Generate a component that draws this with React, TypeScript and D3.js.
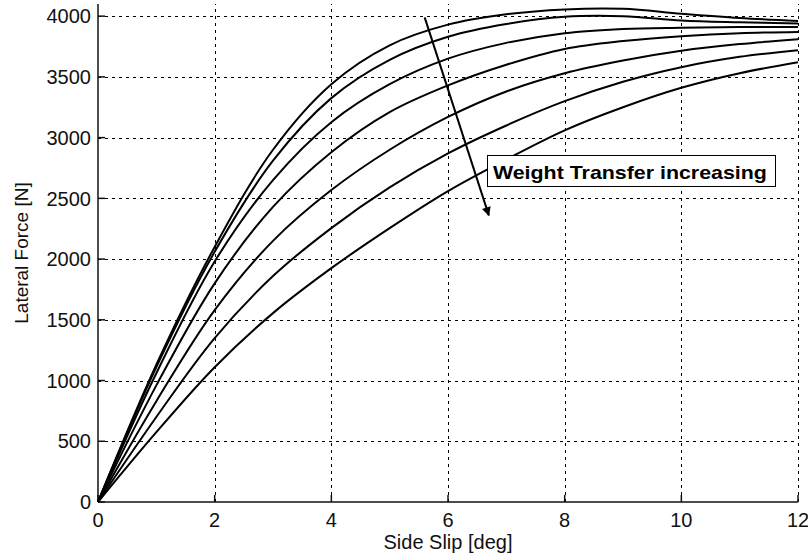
import React, { useRef, useEffect } from "react";
import * as d3 from "d3";

// side slip samples [deg]
const slip = [0, 1, 2, 3, 4, 5, 6, 7, 8, 9, 10, 11, 12];

// lateral force [N], one curve per weight transfer step (low -> high)
const force1 = [0, 1130, 2100, 2900, 3440, 3760, 3930, 4015, 4055, 4060, 4020, 3985, 3960];
const force2 = [0, 1110, 2060, 2810, 3325, 3640, 3830, 3935, 3995, 4000, 3965, 3950, 3940];
const force3 = [0, 1060, 1980, 2650, 3127, 3440, 3650, 3780, 3860, 3895, 3905, 3910, 3910];
const force4 = [0, 960, 1800, 2430, 2880, 3210, 3430, 3600, 3730, 3795, 3835, 3860, 3870];
const force5 = [0, 830, 1580, 2150, 2568, 2900, 3170, 3380, 3530, 3635, 3715, 3770, 3810];
const force6 = [0, 700, 1350, 1860, 2255, 2590, 2870, 3100, 3300, 3460, 3580, 3665, 3720];
const force7 = [0, 575, 1110, 1555, 1925, 2255, 2560, 2820, 3060, 3250, 3410, 3530, 3620];
const allForces = [force1, force2, force3, force4, force5, force6, force7];

const xTicks = [0, 2, 4, 6, 8, 10, 12];
const yTicks = [0, 500, 1000, 1500, 2000, 2500, 3000, 3500, 4000];

// annotation (data units)
const arrowFrom = [5.6, 3990];
const arrowTo = [6.7, 2360];
const noteText = "Weight Transfer increasing";
const notePos = [6.77, 2657];

function App() {
  const svgRef = useRef(null);

  const width = 808;
  const height = 560;
  const font = "Arial, 'Liberation Sans', sans-serif";

  useEffect(() => {
    const svg = d3.select(svgRef.current);
    svg.selectAll("*").remove();

    const x = d3.scaleLinear().domain([0, 12]).range([98, 798]);
    const y = d3.scaleLinear().domain([0, 4100]).range([502, 4]);

    // grid
    const grid = svg.append("g").attr("stroke", "#000").attr("stroke-width", 1).attr("stroke-dasharray", "3,4");
    grid
      .selectAll("line.gx")
      .data(xTicks.filter((d) => d > 0))
      .join("line")
      .attr("x1", (d) => Math.round(x(d)) + 0.5)
      .attr("x2", (d) => Math.round(x(d)) + 0.5)
      .attr("y1", y(0))
      .attr("y2", y(4100));
    grid
      .selectAll("line.gy")
      .data(yTicks.filter((d) => d > 0))
      .join("line")
      .attr("class", "gy")
      .attr("y1", (d) => Math.round(y(d)) + 0.5)
      .attr("y2", (d) => Math.round(y(d)) + 0.5)
      .attr("x1", x(0))
      .attr("x2", x(12));

    // axes (left + bottom only, ticks inward)
    const ax = svg.append("g").attr("stroke", "#111").attr("stroke-width", 1.5);
    ax.append("line").attr("x1", x(0)).attr("x2", x(0)).attr("y1", y(4100)).attr("y2", y(0));
    ax.append("line").attr("x1", x(0)).attr("x2", x(12)).attr("y1", y(0)).attr("y2", y(0));
    ax.selectAll("line.tx")
      .data(xTicks)
      .join("line")
      .attr("x1", (d) => x(d))
      .attr("x2", (d) => x(d))
      .attr("y1", y(0))
      .attr("y2", y(0) - 7);
    ax.selectAll("line.ty")
      .data(yTicks)
      .join("line")
      .attr("class", "ty")
      .attr("y1", (d) => y(d))
      .attr("y2", (d) => y(d))
      .attr("x1", x(0))
      .attr("x2", x(0) + 7);

    const labels = svg.append("g").style("font-family", font).style("font-size", "20px").attr("fill", "#111");
    labels
      .selectAll("text.xt")
      .data(xTicks)
      .join("text")
      .attr("x", (d) => x(d))
      .attr("y", 527)
      .attr("text-anchor", "middle")
      .text((d) => d);
    labels
      .selectAll("text.yt")
      .data(yTicks)
      .join("text")
      .attr("class", "yt")
      .attr("x", x(0) - 7)
      .attr("y", (d) => y(d))
      .attr("dy", "0.36em")
      .attr("text-anchor", "end")
      .text((d) => d);

    labels
      .append("text")
      .attr("x", (x(0) + x(12)) / 2)
      .attr("y", 549)
      .attr("text-anchor", "middle")
      .text("Side Slip [deg]");
    labels
      .append("text")
      .attr("transform", `translate(28,${(y(0) + y(4100)) / 2}) rotate(-90)`)
      .attr("text-anchor", "middle")
      .style("font-size", "19px")
      .text("Lateral Force [N]");

    // curves
    const line = d3
      .line()
      .x((d) => x(d[0]))
      .y((d) => y(d[1]))
      .curve(d3.curveCatmullRom.alpha(0.5));

    svg
      .append("g")
      .attr("fill", "none")
      .attr("stroke", "#000")
      .attr("stroke-width", 2)
      .selectAll("path")
      .data(allForces)
      .join("path")
      .attr("d", (f) => line(slip.map((s, i) => [s, f[i]])));

    // arrow
    svg
      .append("defs")
      .append("marker")
      .attr("id", "head")
      .attr("viewBox", "0 0 10 10")
      .attr("refX", 9)
      .attr("refY", 5)
      .attr("markerWidth", 11)
      .attr("markerHeight", 9)
      .attr("markerUnits", "userSpaceOnUse")
      .attr("orient", "auto")
      .append("path")
      .attr("d", "M0,0 L10,5 L0,10 Z")
      .attr("fill", "#000");

    svg
      .append("line")
      .attr("x1", x(arrowFrom[0]))
      .attr("y1", y(arrowFrom[1]))
      .attr("x2", x(arrowTo[0]))
      .attr("y2", y(arrowTo[1]))
      .attr("stroke", "#000")
      .attr("stroke-width", 2)
      .attr("marker-end", "url(#head)");

    // text box
    const note = svg.append("g");
    const box = note.append("rect").attr("fill", "#fff").attr("stroke", "#000").attr("stroke-width", 1);
    const txt = note
      .append("text")
      .attr("x", x(notePos[0]))
      .attr("y", y(notePos[1]))
      .style("font-family", font)
      .style("font-size", "19px")
      .style("font-weight", "bold")
      .attr("textLength", 274)
      .attr("lengthAdjust", "spacingAndGlyphs")
      .attr("fill", "#000")
      .text(noteText);
    const bb = txt.node().getBBox();
    box
      .attr("x", Math.round(bb.x - 6) + 0.5)
      .attr("y", Math.round(y(notePos[1]) - 24) + 0.5)
      .attr("width", Math.round(bb.width + 14))
      .attr("height", 31);
  }, []);

  return (
    <div style={{ position: "absolute", left: 0, top: 0 }}>
      <svg ref={svgRef} width={width} height={height} style={{ display: "block", background: "#fff" }}></svg>
    </div>
  );
}

export default App;
